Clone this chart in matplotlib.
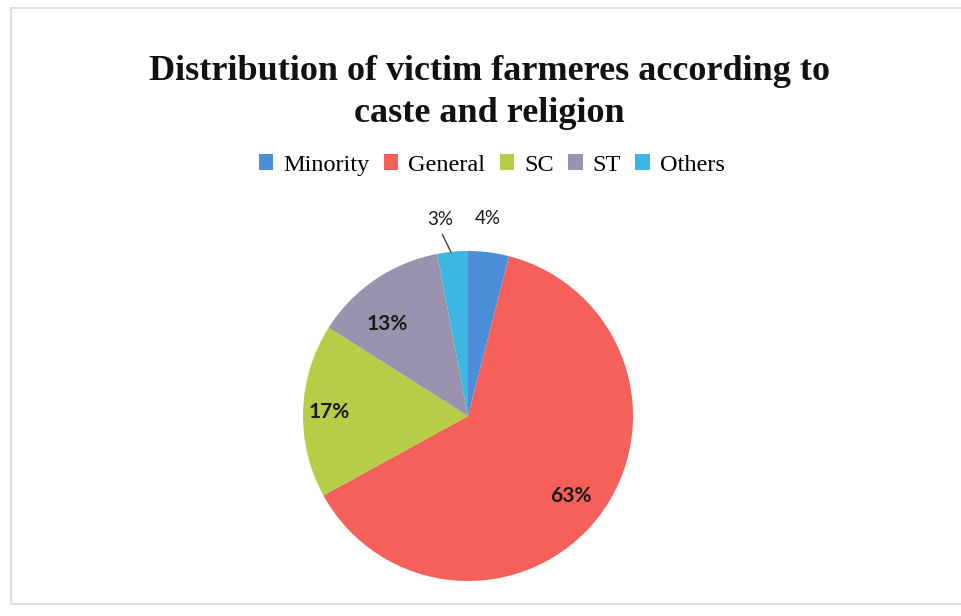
import matplotlib
matplotlib.use("Agg")
import matplotlib.pyplot as plt
from matplotlib.patches import Patch, Rectangle
import numpy as np

# share of victim farmers by caste / religion group
groups = ["Minority", "General", "SC", "ST", "Others"]
shares = [4, 63, 17, 13, 3]
colors = ["#4a8fd8", "#f6605a", "#b5cd47", "#9a93b0", "#3db6e2"]

# where each percentage label sits, as fraction of the radius, plus a small angle nudge
label_radius = [1.22, 0.79, 0.84, 0.74, 1.22]
label_nudge = [1.5, 0, 0, 7, 2.5]
label_bold = [False, True, True, True, False]

fig = plt.figure(figsize=(9.62, 6.16), dpi=100)
fig.patch.set_facecolor("white")

# thin grey frame around the chart area
fig.add_artist(Rectangle((11 / 962, 12 / 616), 960 / 962, 596 / 616,
                         transform=fig.transFigure, fill=False,
                         edgecolor="#d9d9d9", linewidth=1.2))

ax = fig.add_axes([(468 - 165) / 962, (616 - 416 - 165) / 616, 330 / 962, 330 / 616])
wedges, _ = ax.pie(shares, colors=colors, startangle=90, counterclock=False,
                   radius=1.0, wedgeprops=dict(linewidth=0))
ax.set_xlim(-1, 1)
ax.set_ylim(-1, 1)
ax.set_aspect("equal")
ax.axis("off")

for w, val, r, nudge, bold in zip(wedges, shares, label_radius, label_nudge, label_bold):
    mid = np.deg2rad((w.theta1 + w.theta2) / 2 + nudge)
    x, y = r * np.cos(mid), r * np.sin(mid)
    ax.text(x, y + (0 if bold else -0.02), f"{val}%", ha="center", va="center",
            fontsize=15 if bold else 13.5,
            fontweight="bold" if bold else "normal", family="Lato", color="#1a1a1a")

# leader line for the small "Others" slice
mid = np.deg2rad((wedges[4].theta1 + wedges[4].theta2) / 2)
ax.plot([np.cos(mid) * 1.12 - 0.05, np.cos(mid) * 1.0 - 0.01], [1.1, 0.995],
        color="#404040", linewidth=1, clip_on=False)

fig.text(0.509, 0.884, "Distribution of victim farmeres according to",
         ha="center", va="center", fontsize=26, fontweight="bold",
         family="Liberation Serif", color="#111111")
fig.text(0.509, 0.816, "caste and religion",
         ha="center", va="center", fontsize=26, fontweight="bold",
         family="Liberation Serif", color="#111111")

handles = [Patch(facecolor=c, edgecolor="none") for c in colors]
fig.legend(handles, groups, loc="center", bbox_to_anchor=(0.511, 0.732), ncol=5,
           frameon=False, prop={"family": "Liberation Serif", "size": 17.5},
           handlelength=0.6, handleheight=0.6, handletextpad=0.4, columnspacing=0.6)

fig.savefig("out.png", dpi=100, facecolor="white")
